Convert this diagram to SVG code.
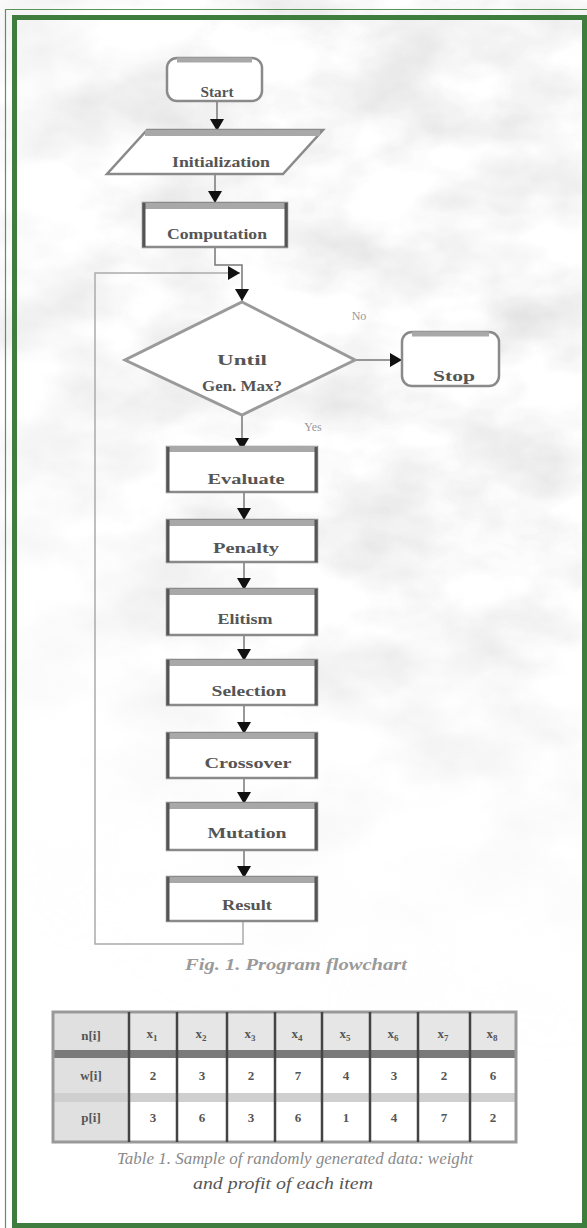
<svg xmlns="http://www.w3.org/2000/svg" width="587" height="1228" viewBox="0 0 587 1228">
<style>
.box{fill:#fff;stroke:#8a8a8a;stroke-width:2.5}
.sides{fill:none;stroke:#555;stroke-width:3}
.band{fill:#a8a8a8}
.lbl{font-family:"Liberation Serif",serif;font-size:15px;font-weight:bold;fill:#555;text-anchor:middle}
.small{font-family:"Liberation Serif",serif;font-size:12px;fill:#999;text-anchor:middle}
.cap{font-family:"Liberation Serif",serif;font-style:italic;font-size:16px;text-anchor:middle}
.tcell{font-family:"Liberation Serif",serif;font-size:13px;font-weight:bold;fill:#555;text-anchor:middle}
.edge{fill:none;stroke:#777;stroke-width:1.5}
.loop{fill:none;stroke:#aaa;stroke-width:1.5}
</style>
<defs>
<marker id="ah" markerUnits="userSpaceOnUse" markerWidth="12" markerHeight="14" viewBox="0 0 12 14" refX="12" refY="7" orient="auto">
<path d="M0,0 L12,7 L0,14 Z" fill="#111"/>
</marker>
<filter id="tex" x="0" y="0" width="100%" height="100%">
<feTurbulence type="fractalNoise" baseFrequency="0.009 0.014" numOctaves="4" seed="11"/>
<feColorMatrix type="matrix" values="0 0 0 0 0.6 0 0 0 0 0.6 0 0 0 0 0.6 1.1 0 0 0 -0.4"/>
</filter>
<radialGradient id="fade" cx="480" cy="250" r="820" gradientUnits="userSpaceOnUse">
<stop offset="0" stop-color="#fff" stop-opacity="1"/>
<stop offset="0.45" stop-color="#fff" stop-opacity="0.9"/>
<stop offset="0.75" stop-color="#fff" stop-opacity="0.2"/>
<stop offset="1" stop-color="#fff" stop-opacity="0"/>
</radialGradient>
<mask id="m"><rect x="0" y="0" width="587" height="1228" fill="url(#fade)"/></mask>
</defs>
<rect x="0" y="0" width="587" height="1228" fill="#fff"/>
<rect x="0" y="0" width="587" height="1228" filter="url(#tex)" mask="url(#m)"/>
<path d="M5.5,1228 V9.5 H587" fill="none" stroke="#5a935a" stroke-width="1.2"/>
<rect x="14.5" y="17.5" width="570" height="1208" fill="none" stroke="#3f7d3f" stroke-width="5"/>

<g id="connectors">
<path class="edge" d="M217,101 V131" marker-end="url(#ah)"/>
<path class="edge" d="M215,174 V203" marker-end="url(#ah)"/>
<path class="edge" d="M215,247 V265 H242 V301" marker-end="url(#ah)"/>
<path class="loop" d="M243,921 V944 H95 V273 H240" marker-end="url(#ah)"/>
<path class="edge" d="M355,360 H402" marker-end="url(#ah)"/>
<path class="edge" d="M242,415 V450" marker-end="url(#ah)"/>
<path class="edge" d="M244,492 V520" marker-end="url(#ah)"/>
<path class="edge" d="M244,562 V590" marker-end="url(#ah)"/>
<path class="edge" d="M244,635 V661" marker-end="url(#ah)"/>
<path class="edge" d="M244,705 V734" marker-end="url(#ah)"/>
<path class="edge" d="M244,778 V804" marker-end="url(#ah)"/>
<path class="edge" d="M244,850 V878" marker-end="url(#ah)"/>
<text class="small" x="359" y="320">No</text>
<text class="small" x="313" y="431">Yes</text>
</g>

<g id="start">
<rect class="box" x="167" y="58" width="95" height="43" rx="10"/>
<path d="M177,60 H252" stroke="#a8a8a8" stroke-width="5"/>
<text class="lbl" x="217" y="97" textLength="33" lengthAdjust="spacingAndGlyphs">Start</text>
</g>

<g id="initialization">
<polygon points="147,130 323,130 283,174 107,174" fill="#fff" stroke="#8a8a8a" stroke-width="2.5"/>
<path d="M145,133 H320" stroke="#a8a8a8" stroke-width="6"/>
<text class="lbl" x="221" y="167" textLength="98" lengthAdjust="spacingAndGlyphs">Initialization</text>
</g>

<g id="computation">
<rect class="box" x="143" y="203" width="144" height="44"/>
<rect class="band" x="143" y="203" width="144" height="6"/>
<path class="sides" d="M144,203 V247 M286,203 V247"/>
<text class="lbl" x="217" y="239" textLength="100" lengthAdjust="spacingAndGlyphs">Computation</text>
</g>

<g id="decision">
<polygon points="242,302 355,360 242,415 125,360" fill="#fff" stroke="#9a9a9a" stroke-width="3"/>
<text class="lbl" x="242" y="365" textLength="50" lengthAdjust="spacingAndGlyphs">Until</text>
<text class="lbl" x="242" y="391" textLength="80" lengthAdjust="spacingAndGlyphs">Gen. Max?</text>
</g>

<g id="stop">
<rect class="box" x="402" y="332" width="97" height="54" rx="10"/>
<path d="M412,334 H489" stroke="#a8a8a8" stroke-width="5"/>
<text class="lbl" x="454" y="381" textLength="42" lengthAdjust="spacingAndGlyphs">Stop</text>
</g>

<g id="evaluate">
<rect class="box" x="167" y="447" width="150" height="45"/>
<rect class="band" x="167" y="446" width="150" height="6"/>
<path class="sides" d="M168,447 V492 M316,447 V492"/>
<text class="lbl" x="246" y="484" textLength="77" lengthAdjust="spacingAndGlyphs">Evaluate</text>
</g>

<g id="penalty">
<rect class="box" x="167" y="520" width="150" height="42"/>
<rect class="band" x="167" y="520" width="150" height="6"/>
<path class="sides" d="M168,520 V562 M316,520 V562"/>
<text class="lbl" x="246" y="553" textLength="66" lengthAdjust="spacingAndGlyphs">Penalty</text>
</g>

<g id="elitism">
<rect class="box" x="167" y="589" width="150" height="46"/>
<rect class="band" x="167" y="589" width="150" height="6"/>
<path class="sides" d="M168,589 V635 M316,589 V635"/>
<text class="lbl" x="245" y="624" textLength="55" lengthAdjust="spacingAndGlyphs">Elitism</text>
</g>

<g id="selection">
<rect class="box" x="167" y="660" width="150" height="45"/>
<rect class="band" x="167" y="660" width="150" height="6"/>
<path class="sides" d="M168,660 V705 M316,660 V705"/>
<text class="lbl" x="249" y="696" textLength="75" lengthAdjust="spacingAndGlyphs">Selection</text>
</g>

<g id="crossover">
<rect class="box" x="167" y="733" width="150" height="45"/>
<rect class="band" x="167" y="733" width="150" height="6"/>
<path class="sides" d="M168,733 V778 M316,733 V778"/>
<text class="lbl" x="248" y="768" textLength="87" lengthAdjust="spacingAndGlyphs">Crossover</text>
</g>

<g id="mutation">
<rect class="box" x="167" y="803" width="150" height="47"/>
<rect class="band" x="167" y="803" width="150" height="6"/>
<path class="sides" d="M168,803 V850 M316,803 V850"/>
<text class="lbl" x="247" y="838" textLength="79" lengthAdjust="spacingAndGlyphs">Mutation</text>
</g>

<g id="result">
<rect class="box" x="167" y="877" width="150" height="44"/>
<rect class="band" x="167" y="877" width="150" height="6"/>
<path class="sides" d="M168,877 V921 M316,877 V921"/>
<text class="lbl" x="247" y="910" textLength="50" lengthAdjust="spacingAndGlyphs">Result</text>
</g>

<text class="cap" x="296" y="970" font-weight="bold" fill="#9a9a9a" textLength="222" lengthAdjust="spacingAndGlyphs">Fig. 1. Program flowchart</text>

<g id="table">
<rect x="53" y="1012" width="463" height="130" fill="#fff"/>
<rect x="53" y="1012" width="463" height="38" fill="#e6e6e6"/>
<rect x="53" y="1012" width="76" height="130" fill="#e0e0e0"/>
<rect x="53" y="1093" width="463" height="9" fill="#cfcfcf"/>
<rect x="53" y="1050" width="463" height="8" fill="#7a7a7a"/>
<rect x="53" y="1012" width="463" height="130" fill="none" stroke="#999" stroke-width="3"/>
<g stroke="#444" stroke-width="2.5">
<path d="M129,1012 V1142 M177,1012 V1142 M227,1012 V1142 M275,1012 V1142 M322,1012 V1142 M370,1012 V1142 M418,1012 V1142 M470,1012 V1142"/>
</g>
<text class="tcell" x="91" y="1040">n[i]</text>
<text class="tcell" x="91" y="1080">w[i]</text>
<text class="tcell" x="91" y="1122">p[i]</text>
<text class="tcell" x="152" y="1038">x<tspan font-size="9" dy="3">1</tspan></text>
<text class="tcell" x="201" y="1038">x<tspan font-size="9" dy="3">2</tspan></text>
<text class="tcell" x="250" y="1038">x<tspan font-size="9" dy="3">3</tspan></text>
<text class="tcell" x="297" y="1038">x<tspan font-size="9" dy="3">4</tspan></text>
<text class="tcell" x="345" y="1038">x<tspan font-size="9" dy="3">5</tspan></text>
<text class="tcell" x="393" y="1038">x<tspan font-size="9" dy="3">6</tspan></text>
<text class="tcell" x="443" y="1038">x<tspan font-size="9" dy="3">7</tspan></text>
<text class="tcell" x="492" y="1038">x<tspan font-size="9" dy="3">8</tspan></text>
<text class="tcell" x="153" y="1080">2</text>
<text class="tcell" x="202" y="1080">3</text>
<text class="tcell" x="251" y="1080">2</text>
<text class="tcell" x="298" y="1080">7</text>
<text class="tcell" x="346" y="1080">4</text>
<text class="tcell" x="394" y="1080">3</text>
<text class="tcell" x="444" y="1080">2</text>
<text class="tcell" x="493" y="1080">6</text>
<text class="tcell" x="153" y="1122">3</text>
<text class="tcell" x="202" y="1122">6</text>
<text class="tcell" x="251" y="1122">3</text>
<text class="tcell" x="298" y="1122">6</text>
<text class="tcell" x="346" y="1122">1</text>
<text class="tcell" x="394" y="1122">4</text>
<text class="tcell" x="444" y="1122">7</text>
<text class="tcell" x="493" y="1122">2</text>
</g>

<text class="cap" x="295" y="1164" fill="#8a8a8a" textLength="356" lengthAdjust="spacingAndGlyphs">Table 1.  Sample of randomly generated data: weight</text>
<text class="cap" x="283" y="1189" fill="#555" textLength="180" lengthAdjust="spacingAndGlyphs">and profit of each item</text>
</svg>
